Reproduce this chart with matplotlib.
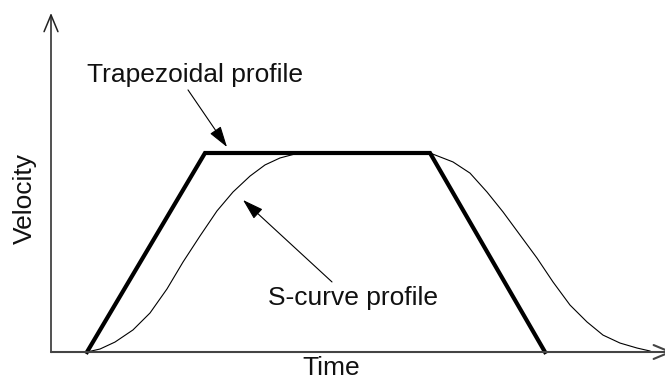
import matplotlib
matplotlib.use('Agg')
import matplotlib.pyplot as plt

# time axis in arbitrary units, velocity normalised to the cruise speed
trap_t = [36, 154, 379, 494]
trap_v = [0.0, 1.0, 1.0, 0.0]

scurve_t = [36, 49, 64, 82, 99, 116, 132, 149, 166, 182, 199, 214, 229, 244, 259,
            379, 402, 419, 436, 452, 469, 486, 502, 519, 536, 552, 569, 586, 599]
scurve_v = [0.0, 0.015, 0.05, 0.111, 0.196, 0.317, 0.452, 0.583, 0.709, 0.804,
            0.884, 0.940, 0.975, 0.995, 1.0,
            1.0, 0.955, 0.899, 0.804, 0.704, 0.588, 0.472, 0.352, 0.236, 0.151,
            0.085, 0.045, 0.020, 0.005]

FONT = ['Liberation Sans', 'DejaVu Sans']

fig = plt.figure(figsize=(6.65, 3.81), dpi=100)
ax = fig.add_axes([0, 0, 1, 1])
ax.set_xlim(-51, 614)
ax.set_ylim(-0.1457, 1.7688)
ax.axis('off')

# axes with open arrow heads
ax.annotate('', xy=(0, 1.7035), xytext=(0, -0.002), annotation_clip=False,
            arrowprops=dict(arrowstyle='->,head_length=1.2,head_width=0.5',
                            color='#222222', lw=1.1, shrinkA=0, shrinkB=0))
ax.annotate('', xy=(622, 0), xytext=(0, 0), annotation_clip=False,
            arrowprops=dict(arrowstyle='->,head_length=1.2,head_width=0.5',
                            color='#444444', lw=1.5, shrinkA=0, shrinkB=0))

ax.plot(scurve_t, scurve_v, color='black', lw=0.8)
ax.plot(trap_t, trap_v, color='black', lw=3.0, solid_joinstyle='miter')

ax.text(36, 1.392, 'Trapezoidal profile', fontsize=19, family=FONT,
        ha='left', va='center', color='#111111')
ax.annotate('', xy=(176, 1.03), xytext=(137, 1.317),
            arrowprops=dict(arrowstyle='-|>,head_length=1.3,head_width=0.4',
                            color='black', lw=0.8, shrinkA=0, shrinkB=0))

ax.text(217, 0.271, 'S-curve profile', fontsize=19, family=FONT,
        ha='left', va='center', color='#111111')
ax.annotate('', xy=(192, 0.764), xytext=(281, 0.352),
            arrowprops=dict(arrowstyle='-|>,head_length=1.3,head_width=0.4',
                            color='black', lw=0.8, shrinkA=0, shrinkB=0))

ax.text(280, -0.08, 'Time', fontsize=19, family=FONT,
        ha='center', va='center', color='#111111')
ax.text(-26, 0.769, 'Velocity', fontsize=19, family=FONT, rotation=90,
        ha='center', va='center', color='#111111')

fig.savefig('out.png', dpi=100, facecolor='white')
